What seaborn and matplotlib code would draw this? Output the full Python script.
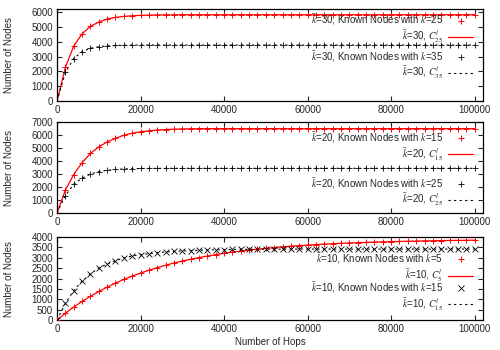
import matplotlib
matplotlib.use("Agg")
import matplotlib.pyplot as plt
import pandas as pd
import seaborn as sns
from matplotlib.lines import Line2D

# Hops at which the number of nodes was sampled
hops = list(range(0, 100001, 2000))

# k-bar = 30
k30_known_k25 = [0, 2270, 3710, 4530, 5040, 5330, 5530, 5640, 5710, 5750,
                 5780, 5795, 5805, 5810, 5815, 5820, 5820, 5820, 5820, 5820,
                 5820, 5820, 5820, 5820, 5820, 5820, 5820, 5820, 5820, 5820,
                 5820, 5820, 5820, 5820, 5820, 5820, 5820, 5820, 5820, 5820,
                 5820, 5820, 5820, 5820, 5820, 5820, 5820, 5820, 5820, 5820,
                 5820]
k30_known_k35 = [0, 1930, 2870, 3330, 3560, 3670, 3720, 3750, 3765, 3775,
                 3780, 3780, 3780, 3780, 3780, 3780, 3780, 3780, 3780, 3780,
                 3780, 3780, 3780, 3780, 3780, 3780, 3780, 3780, 3780, 3780,
                 3780, 3780, 3780, 3780, 3780, 3780, 3780, 3780, 3780, 3780,
                 3780, 3780, 3780, 3780, 3780, 3780, 3780, 3780, 3780, 3780,
                 3780]

# k-bar = 20
k20_known_k15 = [0, 1780, 2970, 3880, 4590, 5100, 5480, 5760, 5990, 6150,
                 6260, 6330, 6390, 6430, 6460, 6480, 6490, 6500, 6500, 6500,
                 6500, 6500, 6500, 6500, 6500, 6500, 6500, 6500, 6500, 6500,
                 6500, 6500, 6500, 6500, 6500, 6500, 6500, 6500, 6500, 6500,
                 6500, 6500, 6500, 6500, 6500, 6500, 6500, 6500, 6500, 6500,
                 6500]
k20_known_k25 = [0, 1350, 2220, 2690, 3000, 3200, 3300, 3360, 3400, 3420,
                 3435, 3440, 3445, 3450, 3450, 3450, 3450, 3450, 3450, 3450,
                 3450, 3450, 3450, 3450, 3450, 3450, 3450, 3450, 3450, 3450,
                 3450, 3450, 3450, 3450, 3450, 3450, 3450, 3450, 3450, 3450,
                 3450, 3450, 3450, 3450, 3450, 3450, 3450, 3450, 3450, 3450,
                 3450]

# k-bar = 10
k10_known_k5 = [0, 325, 622, 896, 1145, 1375, 1586, 1778, 1955, 2117,
                2265, 2401, 2527, 2641, 2746, 2842, 2929, 3010, 3084, 3153,
                3215, 3272, 3324, 3372, 3416, 3456, 3493, 3527, 3558, 3587,
                3613, 3637, 3659, 3679, 3698, 3714, 3729, 3744, 3757, 3769,
                3779, 3789, 3799, 3807, 3815, 3822, 3829, 3835, 3840, 3845,
                3850]
k10_known_k15 = [0, 800, 1420, 1870, 2220, 2510, 2700, 2860, 2990, 3090,
                 3150, 3200, 3250, 3280, 3310, 3330, 3350, 3365, 3375, 3385,
                 3395, 3400, 3405, 3410, 3412, 3415, 3417, 3418, 3419, 3420,
                 3420, 3420, 3420, 3420, 3420, 3420, 3420, 3420, 3420, 3420,
                 3420, 3420, 3420, 3420, 3420, 3420, 3420, 3420, 3420, 3420,
                 3420]

FS = 7

sns.set_style("ticks")
plt.rcParams['font.family'] = ['Liberation Sans', 'DejaVu Sans']
plt.rcParams['mathtext.fontset'] = 'stix'
plt.rcParams['font.size'] = FS

fig = plt.figure(figsize=(5, 3.5), dpi=100)

panels = [
    # (kbar, k red, red vals, k black, black vals, black marker, ymax, ystep, axes rect, legend y's)
    (30, 25, k30_known_k25, 35, k30_known_k35, '+', 6200, 1000,
     [0.114, 0.711, 0.852, 0.263], (0.784, 0.392)),
    (20, 15, k20_known_k15, 25, k20_known_k25, '+', 7000, 1000,
     [0.114, 0.391, 0.852, 0.260], (0.734, 0.231)),
    (10, 5, k10_known_k5, 15, k10_known_k15, 'x', 4000, 500,
     [0.114, 0.0857, 0.852, 0.237], (0.63, 0.285)),
]

for i, (kbar, kr, red, kb, black, bmark, ymax, ystep, rect, legy) in enumerate(panels):
    ax = fig.add_axes(rect)
    df = pd.DataFrame({'hops': hops, 'red': red, 'black': black})

    sns.lineplot(data=df, x='hops', y='red', color='red', lw=0.9, ax=ax)
    sns.scatterplot(data=df, x='hops', y='red', marker='+', color='red',
                    s=22, linewidth=0.7, ax=ax, zorder=3)
    sns.lineplot(data=df, x='hops', y='black', color='black', lw=0.8,
                 linestyle=(0, (2, 3)), ax=ax)
    sns.scatterplot(data=df, x='hops', y='black', marker=bmark, color='black',
                    s=18 if bmark == 'x' else 22, linewidth=0.6, ax=ax, zorder=3)

    ax.set_xlim(0, 102000)
    ax.set_ylim(0, ymax)
    ax.set_xticks(range(0, 100001, 20000))
    ax.set_yticks(range(0, (ymax // ystep) * ystep + 1, ystep))
    ax.tick_params(direction='in', top=True, right=True, length=3.5,
                   width=0.8, labelsize=FS, pad=3)
    for s in ax.spines.values():
        s.set_linewidth(0.9)
        s.set_color('black')

    ax.set_ylabel('Number of Nodes', fontsize=FS)
    ax.yaxis.set_label_coords(-0.1, 0.5)
    if i == 2:
        ax.set_xlabel('Number of Hops', fontsize=FS)
        ax.xaxis.set_label_coords(0.5, -0.21)
    else:
        ax.set_xlabel('')

    red_handles = [
        Line2D([], [], color='red', marker='+', linestyle='none', markersize=5, markeredgewidth=0.7),
        Line2D([], [], color='red', lw=0.9),
    ]
    red_labels = [
        r'$\bar{k}$=%d, Known Nodes with $k$=%d' % (kbar, kr),
        r'$\bar{k}$=%d, $C_{%d}^{l}$' % (kbar, kr),
    ]
    black_handles = [
        Line2D([], [], color='black', marker=bmark, linestyle='none',
               markersize=4.5 if bmark == 'x' else 5, markeredgewidth=0.6),
        Line2D([], [], color='black', lw=0.8, linestyle=(0, (2, 3))),
    ]
    black_labels = [
        r'$\bar{k}$=%d, Known Nodes with $k$=%d' % (kbar, kb),
        r'$\bar{k}$=%d, $C_{%d}^{l}$' % (kbar, kb),
    ]
    common = dict(loc='center right', frameon=False, markerfirst=False,
                  handlelength=2.6, handletextpad=0.5, borderpad=0,
                  borderaxespad=0, labelspacing=0.1, fontsize=FS)
    leg1 = ax.legend(red_handles, red_labels, bbox_to_anchor=(0.977, legy[0]), **common)
    ax.add_artist(leg1)
    ax.legend(black_handles, black_labels, bbox_to_anchor=(0.977, legy[1]), **common)

plt.savefig('out.png', dpi=100)
